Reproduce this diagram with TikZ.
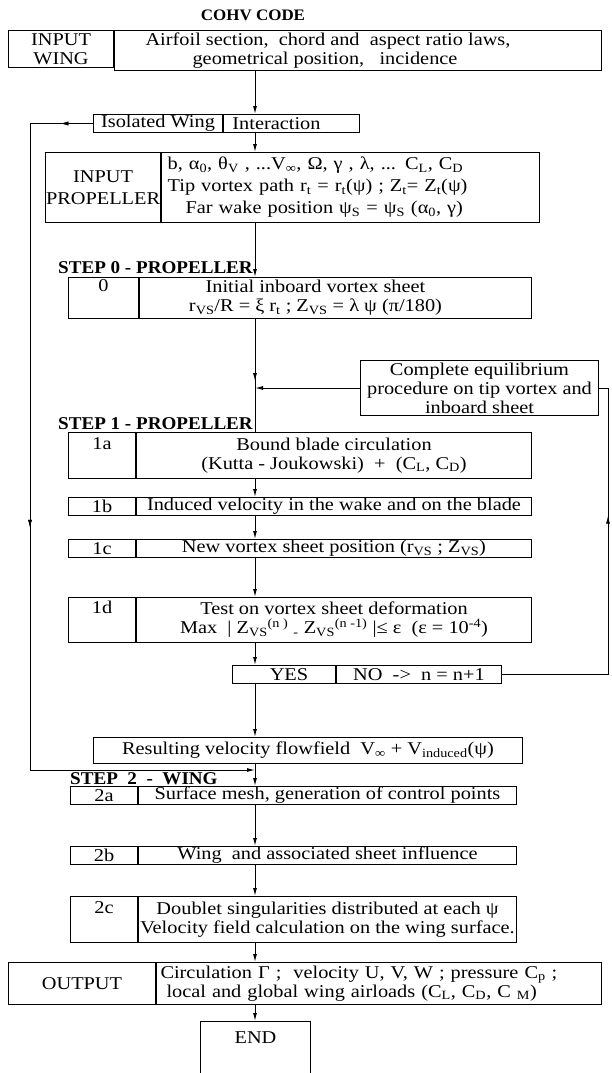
\documentclass[tikz,border=0pt]{standalone}
\usepackage{fontspec}
\setmainfont{Liberation Serif}[FakeStretch=1.13]
\newfontfamily\headfont{Liberation Serif}[FakeStretch=1.06]
\usetikzlibrary{positioning,arrows.meta,decorations.markings}
\newcommand{\lo}[1]{\textsubscript{#1}}
\newcommand{\hi}[1]{\textsuperscript{#1}}

\begin{document}
\begin{tikzpicture}[x=1pt,y=-1pt,
  every node/.style={font=\fontsize{18}{19}\selectfont},
  cell/.style={draw,line width=1pt,inner sep=0.5pt,align=center,anchor=north west,minimum height=#1},
  cell/.default=18pt,
  head/.style={font=\headfont\fontsize{18}{20}\bfseries\selectfont,anchor=base west,inner sep=0pt},
  arr/.style={-{Latex[length=8pt,width=4pt]},line width=1pt},
  link/.style={line width=1pt},
  tipat/.style={postaction={decorate},decoration={markings,
    mark=at position #1 with {\arrow{Latex[length=8pt,width=4pt]}}}},
]
\useasboundingbox (0,0) rectangle (611,1073);
\coordinate (cx) at (255,0);

% title
\node[font=\headfont\fontsize{16}{17}\bfseries\selectfont] (title) at (253,15) {COHV CODE};

% wing input
\node[cell=37pt,minimum width=105pt,inner ysep=2pt] (wingL) at (8,30) {INPUT\\WING};
\node[cell=37pt,minimum width=487pt,inner ysep=2pt] (wingR) at (wingL.north east)
  {Airfoil section,\ \ chord and\ \ aspect ratio laws,\hspace*{60pt}\\
   geometrical position,\ \ \ incidence\hspace*{66pt}};

% choice
\node[cell,minimum width=129pt] (isoL) at (93,114) {Isolated Wing};
\node[cell,minimum width=136pt] (isoR) at (isoL.north east) {Interaction\hspace*{30pt}};

% propeller input
\node[cell=70pt,minimum width=107pt,font=\fontsize{18}{22}\selectfont] (propL) at (45,152) {INPUT\\PROPELLER};
\node[cell=70pt,minimum width=378pt,text width=366pt,align=left,inner xsep=6pt,font=\fontsize{18}{22}\selectfont] (propR) at (propL.north east)
  {b, α\lo{0}, θ\lo{V} , ...V\lo{∞}, Ω, γ , λ, ... C\lo{L}, C\lo{D}\\
   Tip vortex path r\lo{t} = r\lo{t}(ψ) ; Z\lo{t}= Z\lo{t}(ψ)\\
   \hspace*{18pt}Far wake position ψ\lo{S} = ψ\lo{S} (α\lo{0}, γ)};

% step 0
\node[head] (h0) at (58,273) {STEP 0 - PROPELLER};
\node[cell=41pt,minimum width=70pt] (s0L) at (68,277) {0\\ \strut};
\node[cell=41pt,minimum width=392pt] (s0R) at (s0L.north east)
  {Initial inboard vortex sheet\hspace*{40pt}\\r\lo{VS}/R = ξ r\lo{t} ; Z\lo{VS} = λ ψ (π/180)\hspace*{40pt}};

% equilibrium loop
\node[cell=55pt,minimum width=238pt] (equil) at (360,360)
  {Complete equilibrium\\procedure on tip vortex and\\inboard sheet};
\coordinate (jA) at (equil.west -| cx);

% step 1
\node[head] (h1) at (58,429) {STEP 1 - PROPELLER};
\node[cell=46pt,minimum width=67pt] (s1aL) at (68,432) {1a\\ \strut};
\node[cell=46pt,minimum width=395pt] (s1aR) at (s1aL.north east)
  {Bound blade circulation\\(Kutta - Joukowski)\ \ +\ \ (C\lo{L}, C\lo{D})};
\node[cell,minimum width=67pt] (s1bL) at (68,497) {1b};
\node[cell,minimum width=395pt] (s1bR) at (s1bL.north east)
  {Induced velocity in the wake and on the blade};
\node[cell,minimum width=67pt] (s1cL) at (68,539) {1c};
\node[cell,minimum width=395pt] (s1cR) at (s1cL.north east)
  {New vortex sheet position (r\lo{VS} ; Z\lo{VS})};
\node[cell=45pt,minimum width=67pt] (s1dL) at (68,597) {1d\\ \strut};
\node[cell=45pt,minimum width=395pt] (s1dR) at (s1dL.north east)
  {Test on vortex sheet deformation\\
   Max\ \ | Z\lo{VS}\hi{(n )} \lo{-} Z\lo{VS}\hi{(n -1)} |≤ ε\ \ (ε = 10\hi{-4})};

% test
\node[cell,minimum width=103pt] (yes) at (232,665) {\hspace*{10pt}YES};
\node[cell,minimum width=165pt] (no) at (yes.north east) {NO\ \ ->\ \ n = n+1};

\node[cell=26pt,minimum width=429pt] (result) at (93,737)
  {Resulting velocity flowfield\ \ V\lo{∞} + V\lo{induced}(ψ)};
\coordinate (jB) at (255,770);

% step 2
\node[head] (h2) at (70,784) {STEP\ \ 2\ \ -\ \ WING};
\node[cell,minimum width=67pt] (s2aL) at (70,786) {2a};
\node[cell,minimum width=378pt] (s2aR) at (s2aL.north east)
  {Surface mesh, generation of control points};
\node[cell,minimum width=67pt] (s2bL) at (70,846) {2b};
\node[cell,minimum width=378pt] (s2bR) at (s2bL.north east)
  {Wing\ \ and associated sheet influence};
\node[cell=46pt,minimum width=67pt] (s2cL) at (70,896) {2c\\ \strut};
\node[cell=46pt,minimum width=378pt] (s2cR) at (s2cL.north east)
  {Doublet singularities distributed at each ψ\\Velocity field calculation on the wing surface.};

% output
\node[cell=42pt,minimum width=147pt] (outL) at (8,962) {OUTPUT};
\node[cell=42pt,minimum width=445pt,text width=437pt,align=left] (outR) at (outL.north east)
  {Circulation Γ ;\ \ velocity U, V, W ; pressure C\lo{p} ;\\
   \ local and global wing airloads (C\lo{L}, C\lo{D}, C \lo{M})};
\node[cell=56pt,minimum width=110pt] (stop) at (200,1021) {END\\ \strut};

% main line
\draw[arr] (wingR.south -| cx) -- (isoR.north -| cx);
\draw[arr] (isoR.south -| cx) -- (propR.north -| cx);
\draw[arr] (propR.south -| cx) -- (s0R.north -| cx);
\draw[link,tipat=0.55] (s0R.south -| cx) -- (s1aR.north -| cx);
\draw[arr] (equil.west) -- (jA);
\draw[arr] (s1aR.south -| cx) -- (s1bR.north -| cx);
\draw[arr] (s1bR.south -| cx) -- (s1cR.north -| cx);
\draw[arr] (s1cR.south -| cx) -- (s1dR.north -| cx);
\draw[arr] (s1dR.south -| cx) -- (yes.north -| cx);
\draw[arr] (yes.south -| cx) -- (result.north -| cx);
\draw[arr] (result.south -| cx) -- (s2aR.north -| cx);
\draw[arr] (s2aR.south -| cx) -- (s2bR.north -| cx);
\draw[arr] (s2bR.south -| cx) -- (s2cR.north -| cx);
\draw[arr] (s2cR.south -| cx) -- (outR.north -| cx);
\draw[arr] (outR.south -| cx) -- (stop.north -| cx);

% loops
\draw[arr,tipat=0.035,tipat=0.5] (isoL.west) -- (30,0 |- isoL.west) -- (30,770) -- (jB);
\draw[link,tipat=0.66] (no.east) -- (608,0 |- no.east) -- (608,0 |- equil.east) -- (equil.east);
\end{tikzpicture}
\end{document}
